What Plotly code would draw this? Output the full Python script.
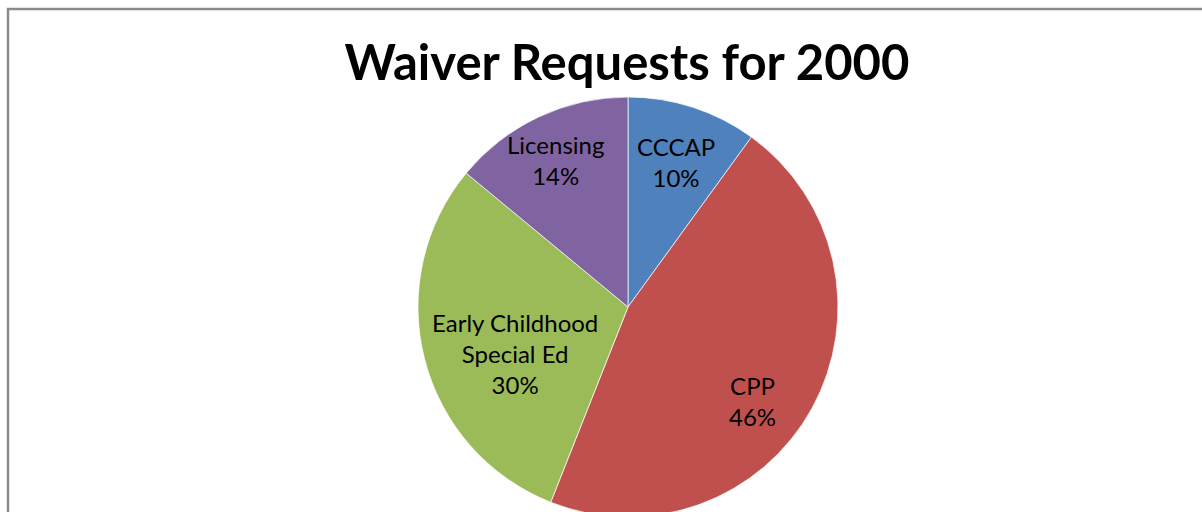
import plotly.graph_objects as go

# Waiver requests by program, share of total (%)
programs = ["CCCAP", "CPP", "Early Childhood<br>Special Ed", "Licensing"]
shares = [10, 46, 30, 14]
colors = ["#4F81BD", "#C0504D", "#9BBB59", "#8064A2"]

W, H = 1202, 540          # canvas is taller than the view; the pie runs off the bottom
cx, cy, r = 628, 307, 210  # pie centre and radius in pixels

# label block centres (pixels), one per slice
label_xy = [(676, 162), (752, 401), (515, 353), (555, 160)]


def px_x(x):
    return x / W


def px_y(y):
    return 1 - y / H


fig = go.Figure(
    go.Pie(
        labels=programs,
        values=shares,
        sort=False,
        direction="clockwise",
        rotation=0,
        marker=dict(colors=colors, line=dict(color="rgba(255,255,255,0.7)", width=1)),
        textinfo="none",
        hoverinfo="label+percent",
        showlegend=False,
        domain=dict(x=[px_x(cx - r), px_x(cx + r)], y=[px_y(cy + r), px_y(cy - r)]),
    )
)

total = sum(shares)
for name, val, (lx, ly) in zip(programs, shares, label_xy):
    pct = round(100 * val / total)
    fig.add_annotation(
        x=px_x(lx), y=px_y(ly), xref="paper", yref="paper",
        text=f"{name}<br>{pct}%", showarrow=False,
        xanchor="center", yanchor="middle", align="center",
        font=dict(family="Lato", size=24, color="#000000"),
    )

# chart frame
fig.add_shape(
    type="rect", xref="paper", yref="paper",
    x0=px_x(8), x1=px_x(1240), y0=px_y(9), y1=px_y(600),
    line=dict(color="#8a8a8a", width=2.5), fillcolor="rgba(0,0,0,0)", layer="below",
)

fig.update_layout(
    width=W, height=H,
    margin=dict(l=0, r=0, t=0, b=0),
    paper_bgcolor="white", plot_bgcolor="white",
    title=dict(
        text="<b>Waiver Requests for 2000</b>",
        x=px_x(627), xanchor="center", y=px_y(63), yanchor="middle",
        font=dict(family="Lato", size=49, color="#000000"),
    ),
)

fig.write_html(
    "out.html",
    config={"displayModeBar": False},
    post_script="document.body.style.margin='0';document.body.style.overflow='hidden';",
)
